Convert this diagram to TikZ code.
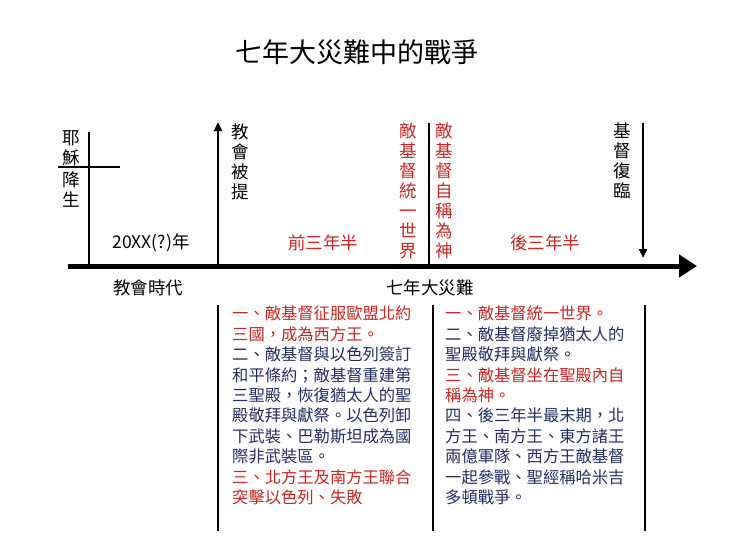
\documentclass[tikz,border=0pt]{standalone}
\usepackage{fontspec}
\setmainfont{Noto Sans CJK TC}
\usetikzlibrary{arrows.meta}
\definecolor{rd}{RGB}{205,35,35}
\definecolor{nv}{RGB}{35,45,95}
\begin{document}
\begin{tikzpicture}[x=1pt,y=-1pt,
  lbl/.style={font=\fontsize{17.5}{19}\selectfont, inner sep=0pt, align=center},
  vt/.style={font=\fontsize{17.5}{20}\selectfont, inner sep=0pt, align=center, anchor=north},
  body/.style={font=\fontsize{16.3}{20.4}\selectfont, inner sep=0pt, align=left, anchor=north west},
  ln/.style={line width=2.5pt},
  tip/.style={-{Triangle[length=9pt,width=8pt]}}]
\useasboundingbox (0,0) rectangle (740,555);
\node[lbl,font=\fontsize{27}{28}\selectfont] (title) at (357,52) {七年大災難中的戰爭};
% main axis
\coordinate (a0) at (68,266); \coordinate (a1) at (697,266);
\draw[line width=5pt,-{Triangle[length=18pt,width=22pt]}] (a0) -- (a1);
% Jesus birth
\coordinate (b0) at (89,266); \coordinate (b1) at (89,132);
\draw[ln] (b0) -- (b1);
\coordinate (t0) at (58,167); \coordinate (t1) at (120,167);
\draw[ln] (t0) -- (t1);
\node[vt] (jb1) at (71,130) {耶\\穌};
\node[vt] (jb2) at (71,172) {降\\生};
% rapture
\coordinate (r0) at (218,266); \coordinate (r1) at (218,122);
\draw[ln,tip] (r0) -- (r1);
\node[vt] (rap) at (240,124) {教\\會\\被\\提};
% midpoint
\coordinate (m0) at (429,266); \coordinate (m1) at (429,123);
\draw[ln] (m0) -- (m1);
\node[vt,text=rd] (m1t) at (408,123) {敵\\基\\督\\統\\一\\世\\界};
\node[vt,text=rd] (m2t) at (444,123) {敵\\基\\督\\自\\稱\\為\\神};
% return
\coordinate (c0) at (643,123); \coordinate (c1) at (643,258);
\draw[ln,tip] (c0) -- (c1);
\node[vt] (ret) at (622,123) {基\\督\\復\\臨};
% labels
\node[lbl] (yr) at (151,243) {20XX(?)年};
\node[lbl,text=rd] (f3) at (323,243) {前三年半};
\node[lbl,text=rd] (s3) at (545,243) {後三年半};
\node[lbl] (ca) at (148,288) {教會時代};
\node[lbl] (tr) at (430,288) {七年大災難};
% lower columns
\coordinate (l0) at (218,305); \coordinate (l1) at (218,531);
\coordinate (l2) at (433,305); \coordinate (l3) at (433,531);
\coordinate (l4) at (645,305); \coordinate (l5) at (645,531);
\draw[ln] (l0) -- (l1); \draw[ln] (l2) -- (l3); \draw[ln] (l4) -- (l5);
\node[body] (left) at (232,306) {%
\textcolor{rd}{一、敵基督征服歐盟北約}\\
\textcolor{rd}{三國，成為西方王。}\\
\textcolor{nv}{二、敵基督與以色列簽訂}\\
\textcolor{nv}{和平條約；敵基督重建第}\\
\textcolor{nv}{三聖殿，恢復猶太人的聖}\\
\textcolor{nv}{殿敬拜與獻祭。以色列卸}\\
\textcolor{nv}{下武裝、巴勒斯坦成為國}\\
\textcolor{nv}{際非武裝區。}\\
\textcolor{rd}{三、北方王及南方王聯合}\\
\textcolor{rd}{突擊以色列、失敗}};
\node[body] (right) at (445,306) {%
\textcolor{rd}{一、敵基督統一世界。}\\
\textcolor{nv}{二、敵基督廢掉猶太人的}\\
\textcolor{nv}{聖殿敬拜與獻祭。}\\
\textcolor{rd}{三、敵基督坐在聖殿內自}\\
\textcolor{rd}{稱為神。}\\
\textcolor{nv}{四、後三年半最末期，北}\\
\textcolor{nv}{方王、南方王、東方諸王}\\
\textcolor{nv}{兩億軍隊、西方王敵基督}\\
\textcolor{nv}{一起參戰、聖經稱哈米吉}\\
\textcolor{nv}{多頓戰爭。}};
\end{tikzpicture}
\end{document}
